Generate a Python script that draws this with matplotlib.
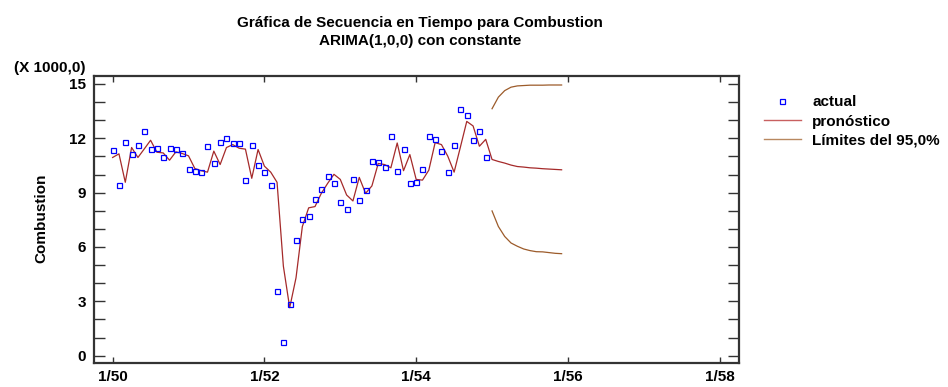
import numpy as np
import matplotlib
matplotlib.use("Agg")
import matplotlib.pyplot as plt
from matplotlib.lines import Line2D

plt.rcParams['font.family'] = ['Liberation Sans', 'DejaVu Sans']
plt.rcParams['font.weight'] = 'bold'

# ---- data (thousands), monthly from 1/50 ----
actual = [11.34, 9.40, 11.82, 11.14, 11.65, 12.38, 11.38, 11.45, 10.94, 11.49,
          11.40, 11.21, 10.32, 10.21, 10.12, 11.56, 10.61, 11.82, 12.02, 11.76,
          11.73, 9.69, 11.65, 10.52, 10.12, 9.40, 3.59, 0.75, 2.87, 6.37,
          7.54, 7.72, 8.67, 9.18, 9.90, 9.55, 8.47, 8.10, 9.75, 8.62,
          9.13, 10.77, 10.68, 10.41, 12.12, 10.17, 11.40, 9.55, 9.60, 10.32,
          12.11, 11.96, 11.29, 10.12, 11.65, 13.61, 13.30, 11.91, 12.42, 10.97]

fitted = [10.94, 11.14, 9.57, 11.49, 10.94, 11.41, 11.89, 11.23, 11.19, 10.79,
          11.25, 11.16, 11.03, 10.33, 10.21, 10.13, 11.29, 10.55, 11.49, 11.65,
          11.45, 11.40, 9.79, 11.38, 10.46, 10.13, 9.57, 4.94, 2.65, 4.30,
          7.13, 8.16, 8.23, 8.96, 9.51, 10.01, 9.73, 8.87, 8.54, 9.84,
          8.96, 9.37, 10.61, 10.55, 10.37, 11.74, 10.21, 11.10, 9.73, 9.69,
          10.24, 11.76, 11.65, 11.01, 10.13, 11.52, 12.93, 12.68, 11.56, 11.94]

forecast = [10.83, 10.72, 10.63, 10.52, 10.44, 10.41, 10.37, 10.35, 10.32, 10.30, 10.28, 10.26]
upper = [13.63, 14.27, 14.63, 14.82, 14.89, 14.91, 14.93, 14.93, 14.93, 14.94, 14.94, 14.94]
lower = [7.99, 7.13, 6.58, 6.22, 6.04, 5.89, 5.80, 5.74, 5.73, 5.69, 5.65, 5.63]

tick_labels = ['1/50', '1/52', '1/54', '1/56', '1/58']
tick_months = [0, 24, 48, 72, 96]

title1 = 'Gráfica de Secuencia en Tiempo para Combustion'
title2 = 'ARIMA(1,0,0) con constante'

# ---- figure ----
W, H = 948, 387
FS = 11
fig = plt.figure(figsize=(W / 100, H / 100), dpi=100)
ax = fig.add_axes([94.3 / W, 1 - 363.3 / H, (739.3 - 94.3) / W, (363.3 - 76.3) / H])

n = len(actual)
t_obs = np.arange(n)
t_fc = np.arange(n, n + len(forecast))

fit_color = '#A52A2A'
lim_color = '#9C5B2A'
pt_color = '#0000FF'

line_t = np.concatenate([t_obs, t_fc])
line_v = np.concatenate([fitted, forecast])
ax.plot(line_t, line_v, color=fit_color, lw=0.9, zorder=2)
ax.plot(t_fc, upper, color=lim_color, lw=0.9, zorder=2)
ax.plot(t_fc, lower, color=lim_color, lw=0.9, zorder=2)
ax.plot(t_obs, actual, linestyle='none', marker='s', markersize=3.6,
        markerfacecolor='none', markeredgecolor=pt_color, markeredgewidth=0.9, zorder=3)

ax.set_xlim(-2.9, 99.1)
ax.set_ylim(-0.42, 15.42)

ax.set_xticks(tick_months)
ax.set_xticklabels(tick_labels)
ax.set_yticks([0, 3, 6, 9, 12, 15])
ax.set_yticks(np.arange(0, 16, 1), minor=True)

spine_c = '#333333'
for s in ax.spines.values():
    s.set_linewidth(1.6)
    s.set_color(spine_c)

ax.tick_params(axis='x', which='major', direction='in', length=4, width=1.0,
               top=True, bottom=True, colors=spine_c, labelcolor='black',
               labelsize=FS, pad=5)
ax.tick_params(axis='y', which='both', direction='in', length=8, width=1.0,
               left=True, right=True, colors=spine_c, labelcolor='black',
               labelsize=FS, pad=6)
ax.tick_params(axis='x', which='minor', bottom=False, top=False)
for lab in ax.get_xticklabels() + ax.get_yticklabels():
    lab.set_fontweight('bold')

# titles and labels
fig.text(420 / W, 1 - 23.5 / H, title1, ha='center', va='center', fontsize=FS, fontweight='bold')
fig.text(420 / W, 1 - 41.2 / H, title2, ha='center', va='center', fontsize=FS, fontweight='bold')
fig.text(86 / W, 1 - 68.3 / H, '(X 1000,0)', ha='right', va='center', fontsize=FS, fontweight='bold')
fig.text(41.5 / W, 1 - 218 / H, 'Combustion', ha='center', va='center', rotation=90,
         fontsize=FS, fontweight='bold')

# legend
handles = [Line2D([], [], linestyle='none', marker='s', markersize=3.6, markerfacecolor='none',
                  markeredgecolor=pt_color, markeredgewidth=0.9),
           Line2D([], [], color='#C86060', lw=1.0),
           Line2D([], [], color='#B88860', lw=1.0)]
labels = ['actual', 'pronóstico', 'Límites del 95,0%']
leg = fig.legend(handles, labels, loc='upper left', bbox_to_anchor=(764 / W, 1 - 95.5 / H),
                 frameon=False, fontsize=FS, handlelength=2.4, handletextpad=0.75,
                 labelspacing=0.33, borderaxespad=0, borderpad=0)
for t in leg.get_texts():
    t.set_fontweight('bold')

fig.savefig('out.png', dpi=100)
